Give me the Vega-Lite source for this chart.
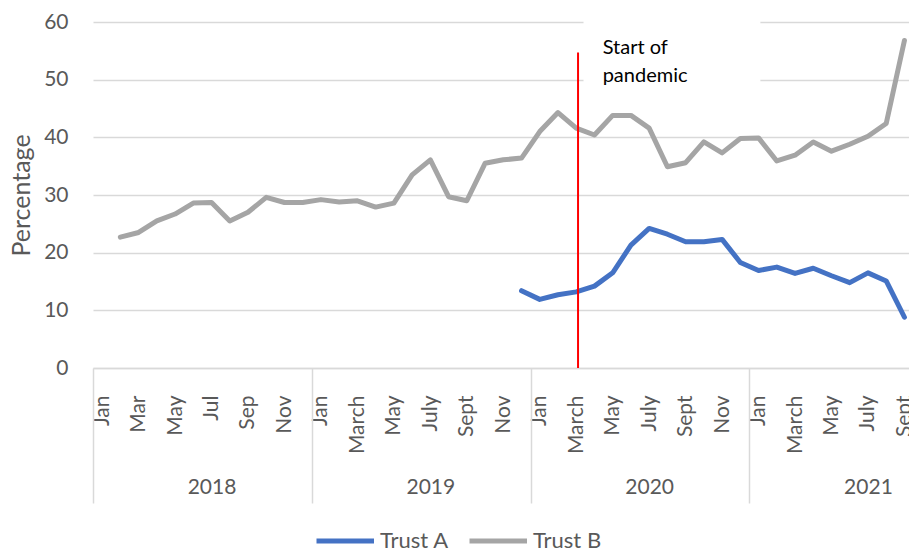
{
  "$schema": "https://vega.github.io/schema/vega-lite/v6.json",
  "width": 816,
  "height": 346,
  "autosize": {"type": "none"},
  "padding": {"left": 93, "top": 22, "right": 0, "bottom": 180},
  "config": {
    "view": {"stroke": null},
    "font": "Lato",
    "axisY": {
      "tickCount": 6,
      "titleFontSize": 25, "titleFontWeight": "normal", "titleColor": "#595959", "titlePadding": 9,
      "labelFontSize": 21, "labelColor": "#595959", "labelPadding": 25,
      "ticks": false, "tickSize": 0, "domain": false,
      "grid": true, "gridColor": "#d9d9d9", "gridWidth": 1.5
    }
  },
  "datasets": {
    "series": [
      {"series": "Trust B", "idx": 1, "month": "2018-02", "value": 22.7},
      {"series": "Trust B", "idx": 2, "month": "2018-03", "value": 23.5},
      {"series": "Trust B", "idx": 3, "month": "2018-04", "value": 25.5},
      {"series": "Trust B", "idx": 4, "month": "2018-05", "value": 26.7},
      {"series": "Trust B", "idx": 5, "month": "2018-06", "value": 28.6},
      {"series": "Trust B", "idx": 6, "month": "2018-07", "value": 28.7},
      {"series": "Trust B", "idx": 7, "month": "2018-08", "value": 25.5},
      {"series": "Trust B", "idx": 8, "month": "2018-09", "value": 27.0},
      {"series": "Trust B", "idx": 9, "month": "2018-10", "value": 29.6},
      {"series": "Trust B", "idx": 10, "month": "2018-11", "value": 28.7},
      {"series": "Trust B", "idx": 11, "month": "2018-12", "value": 28.7},
      {"series": "Trust B", "idx": 12, "month": "2019-01", "value": 29.2},
      {"series": "Trust B", "idx": 13, "month": "2019-02", "value": 28.8},
      {"series": "Trust B", "idx": 14, "month": "2019-03", "value": 29.0},
      {"series": "Trust B", "idx": 15, "month": "2019-04", "value": 27.9},
      {"series": "Trust B", "idx": 16, "month": "2019-05", "value": 28.6},
      {"series": "Trust B", "idx": 17, "month": "2019-06", "value": 33.5},
      {"series": "Trust B", "idx": 18, "month": "2019-07", "value": 36.1},
      {"series": "Trust B", "idx": 19, "month": "2019-08", "value": 29.7},
      {"series": "Trust B", "idx": 20, "month": "2019-09", "value": 29.0},
      {"series": "Trust B", "idx": 21, "month": "2019-10", "value": 35.5},
      {"series": "Trust B", "idx": 22, "month": "2019-11", "value": 36.1},
      {"series": "Trust B", "idx": 23, "month": "2019-12", "value": 36.4},
      {"series": "Trust B", "idx": 24, "month": "2020-01", "value": 41.0},
      {"series": "Trust B", "idx": 25, "month": "2020-02", "value": 44.3},
      {"series": "Trust B", "idx": 26, "month": "2020-03", "value": 41.6},
      {"series": "Trust B", "idx": 27, "month": "2020-04", "value": 40.4},
      {"series": "Trust B", "idx": 28, "month": "2020-05", "value": 43.8},
      {"series": "Trust B", "idx": 29, "month": "2020-06", "value": 43.8},
      {"series": "Trust B", "idx": 30, "month": "2020-07", "value": 41.6},
      {"series": "Trust B", "idx": 31, "month": "2020-08", "value": 34.9},
      {"series": "Trust B", "idx": 32, "month": "2020-09", "value": 35.6},
      {"series": "Trust B", "idx": 33, "month": "2020-10", "value": 39.2},
      {"series": "Trust B", "idx": 34, "month": "2020-11", "value": 37.3},
      {"series": "Trust B", "idx": 35, "month": "2020-12", "value": 39.8},
      {"series": "Trust B", "idx": 36, "month": "2021-01", "value": 39.9},
      {"series": "Trust B", "idx": 37, "month": "2021-02", "value": 35.9},
      {"series": "Trust B", "idx": 38, "month": "2021-03", "value": 36.9},
      {"series": "Trust B", "idx": 39, "month": "2021-04", "value": 39.2},
      {"series": "Trust B", "idx": 40, "month": "2021-05", "value": 37.6},
      {"series": "Trust B", "idx": 41, "month": "2021-06", "value": 38.8},
      {"series": "Trust B", "idx": 42, "month": "2021-07", "value": 40.2},
      {"series": "Trust B", "idx": 43, "month": "2021-08", "value": 42.4},
      {"series": "Trust B", "idx": 44, "month": "2021-09", "value": 56.8},
      {"series": "Trust A", "idx": 23, "month": "2019-12", "value": 13.4},
      {"series": "Trust A", "idx": 24, "month": "2020-01", "value": 11.9},
      {"series": "Trust A", "idx": 25, "month": "2020-02", "value": 12.7},
      {"series": "Trust A", "idx": 26, "month": "2020-03", "value": 13.2},
      {"series": "Trust A", "idx": 27, "month": "2020-04", "value": 14.2},
      {"series": "Trust A", "idx": 28, "month": "2020-05", "value": 16.5},
      {"series": "Trust A", "idx": 29, "month": "2020-06", "value": 21.3},
      {"series": "Trust A", "idx": 30, "month": "2020-07", "value": 24.2},
      {"series": "Trust A", "idx": 31, "month": "2020-08", "value": 23.2},
      {"series": "Trust A", "idx": 32, "month": "2020-09", "value": 21.9},
      {"series": "Trust A", "idx": 33, "month": "2020-10", "value": 21.9},
      {"series": "Trust A", "idx": 34, "month": "2020-11", "value": 22.3},
      {"series": "Trust A", "idx": 35, "month": "2020-12", "value": 18.3},
      {"series": "Trust A", "idx": 36, "month": "2021-01", "value": 16.9},
      {"series": "Trust A", "idx": 37, "month": "2021-02", "value": 17.5},
      {"series": "Trust A", "idx": 38, "month": "2021-03", "value": 16.4},
      {"series": "Trust A", "idx": 39, "month": "2021-04", "value": 17.3},
      {"series": "Trust A", "idx": 40, "month": "2021-05", "value": 16.0},
      {"series": "Trust A", "idx": 41, "month": "2021-06", "value": 14.8},
      {"series": "Trust A", "idx": 42, "month": "2021-07", "value": 16.5},
      {"series": "Trust A", "idx": 43, "month": "2021-08", "value": 15.1},
      {"series": "Trust A", "idx": 44, "month": "2021-09", "value": 8.8}
    ],
    "pandemic": [
      {"idx": 26.1, "value": 0, "value2": 54.7}
    ],
    "note": [
      {"start": 26.4, "end": 36.1, "value": 47.5, "value2": 60.5, "textIdx": 27.45, "textY": 55.5, "label": "Start of\npandemic"}
    ]
  },
  "layer": [
    {
      "data": {"name": "series"},
      "mark": {"type": "line", "strokeWidth": 5, "strokeCap": "round", "strokeJoin": "round"},
      "encoding": {
        "x": {
          "field": "idx", "type": "quantitative",
          "scale": {"domain": [-0.5, 44.25], "nice": false, "zero": false},
          "axis": {
            "orient": "bottom", "title": null,
            "values": [0, 2, 4, 6, 8, 10, 12, 14, 16, 18, 20, 22, 24, 26, 28, 30, 32, 34, 36, 38, 40, 42, 44],
            "labelExpr": "datum.value < 12 ? ['Jan','Mar','May','Jul','Sep','Nov'][(datum.value % 12) / 2] : ['Jan','March','May','July','Sept','Nov'][(datum.value % 12) / 2]",
            "labelAngle": -90, "labelAlign": "right", "labelBaseline": "middle",
            "labelPadding": 27, "labelFontSize": 21, "labelColor": "#595959",
            "labelOverlap": false, "labelFlush": false, "labelBound": false,
            "ticks": false, "tickSize": 0, "grid": false,
            "domain": true, "domainColor": "#d9d9d9", "domainWidth": 1.5
          }
        },
        "y": {
          "field": "value", "type": "quantitative",
          "scale": {"domain": [0, 60], "nice": false},
          "axis": {"title": "Percentage"}
        },
        "color": {
          "field": "series", "type": "nominal",
          "scale": {"domain": ["Trust A", "Trust B"], "range": ["#4472C4", "#A5A5A5"]},
          "legend": {
            "title": null, "orient": "none", "direction": "horizontal",
            "legendX": 221, "legendY": 505,
            "symbolType": "M-1,0H4", "symbolSize": 529, "symbolStrokeWidth": 5,
            "labelFontSize": 22, "labelColor": "#595959", "labelOffset": 38,
            "columnPadding": 10, "padding": 0, "labelLimit": 200
          }
        }
      }
    },
    {
      "data": {"name": "pandemic"},
      "mark": {"type": "rule", "color": "#FF0000", "strokeWidth": 2},
      "encoding": {
        "x": {
          "field": "idx", "type": "quantitative",
          "axis": {
            "orient": "bottom", "title": null,
            "values": [6, 18, 30, 42],
            "labelExpr": "'' + (2018 + (datum.value - 6) / 12)",
            "labelAngle": 0, "labelAlign": "center", "labelBaseline": "middle",
            "labelPadding": 119, "labelFontSize": 21, "labelColor": "#595959",
            "labelOverlap": false, "labelFlush": false,
            "ticks": false, "tickSize": 0, "domain": false, "grid": false
          }
        },
        "y": {"field": "value", "type": "quantitative", "axis": {"title": "Percentage"}},
        "y2": {"field": "value2"}
      }
    },
    {
      "data": {"name": "note"},
      "mark": {"type": "rect", "color": "white"},
      "encoding": {
        "x": {
          "field": "start", "type": "quantitative",
          "axis": {
            "orient": "bottom", "title": null,
            "values": [-0.5, 11.5, 23.5, 35.5],
            "labels": false, "ticks": true, "tickSize": 135,
            "tickColor": "#d9d9d9", "tickWidth": 1.5,
            "domain": false, "grid": false
          }
        },
        "x2": {"field": "end"},
        "y": {"field": "value", "type": "quantitative", "axis": {"title": "Percentage"}},
        "y2": {"field": "value2"}
      }
    },
    {
      "data": {"name": "note"},
      "mark": {"type": "text", "align": "left", "baseline": "middle", "lineBreak": "\n", "lineHeight": 28, "fontSize": 20, "color": "black"},
      "encoding": {
        "x": {"field": "textIdx", "type": "quantitative", "axis": null},
        "y": {"field": "textY", "type": "quantitative", "axis": {"title": "Percentage"}},
        "text": {"field": "label"}
      }
    }
  ],
  "resolve": {"axis": {"x": "independent"}}
}
